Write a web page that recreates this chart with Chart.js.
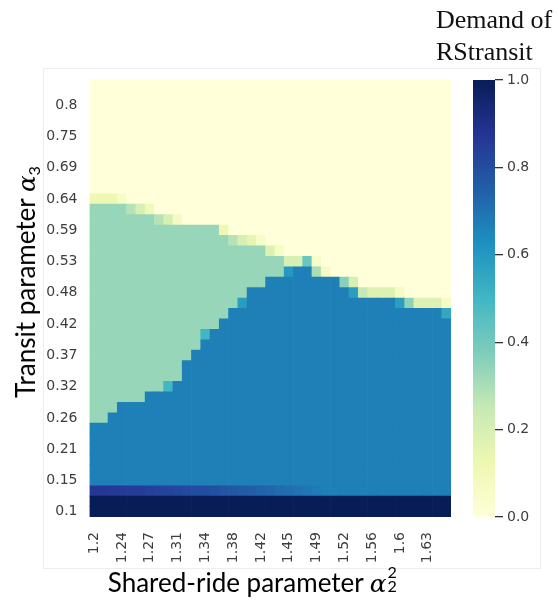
<!DOCTYPE html>
<html>
<head>
<meta charset="utf-8">
<title>Demand of RStransit</title>
<script src="https://cdn.jsdelivr.net/npm/chart.js@4.4.1/dist/chart.umd.min.js"></script>
<style>
  html, body { margin: 0; padding: 0; background: #fff; }
  #wrap { position: relative; width: 558px; height: 604px; overflow: hidden; }
  #wrap canvas { position: absolute; left: 0; top: 0; }
  .frame { position: absolute; left: 43px; top: 68px; width: 498px; height: 501px; border: 1px solid #ededed; box-sizing: border-box; }
  .axis-title { position: absolute; font-family: Lato, sans-serif; font-size: 26px; color: #000; white-space: nowrap; }
  .axis-title i { font-family: 'DejaVu Serif', serif; font-size: 0.95em; }
  .axis-title sub { font-size: 0.62em; vertical-align: -0.3em; line-height: 0; }
  #ytitle { left: 25px; top: 282px; transform: translate(-50%, -50%) rotate(-90deg); }
  #xtitle { left: 253px; top: 582px; transform: translate(-50%, -50%); }
  .ss { position: relative; display: inline-block; width: 0.45em; height: 1em; }
  .ss span { position: absolute; left: 1px; font-size: 0.62em; line-height: 1; }
  .ss .up { top: -0.12em; }
  .ss .dn { top: 0.72em; }
  .cb-title { position: absolute; left: 436px; top: 4px; font-family: 'Liberation Serif', serif; font-size: 26px; line-height: 32px; color: #111; }
</style>
</head>
<body>
<div id="wrap">
  <div class="frame"></div>
  <canvas id="heat" width="558" height="604"></canvas>
  <canvas id="cbar" width="558" height="604"></canvas>
  <div class="cb-title">Demand of<br>RStransit</div>
  <div class="axis-title" id="ytitle">Transit parameter <i>α</i><sub>3</sub></div>
  <div class="axis-title" id="xtitle">Shared-ride parameter <i>α</i><span class="ss"><span class="up">2</span><span class="dn">2</span></span></div>
</div>
<script>
// grid size: columns = shared-ride parameter, rows = transit parameter (row 0 at the bottom)
const nCols = 39;
const nRows = 42;

// labels shown on every third column / row
const xTickLabels = ['1.2', '1.24', '1.27', '1.31', '1.34', '1.38', '1.42', '1.45', '1.49', '1.52', '1.56', '1.6', '1.63'];
const yTickLabels = ['0.1', '0.15', '0.21', '0.26', '0.32', '0.37', '0.42', '0.48', '0.53', '0.59', '0.64', '0.69', '0.75', '0.8'];

// demand levels of the plateaus
const levelNone = 0;
const levelLow = 1 / 3;
const levelHigh = 2 / 3;
const levelFull = 1;

// highest row (per column) in the 2/3 plateau
const blueTop = [8, 8, 9, 10, 10, 10, 11, 11, 11, 12, 14, 15, 16, 17, 18, 19, 19, 21, 21, 22,
  22, 22, 23, 23, 22, 22, 22, 21, 20, 20, 20, 20, 20, 19, 19, 19, 19, 19, 18];
// highest row (per column) in the 1/3 plateau
const greenTop = [29, 29, 29, 29, 28, 28, 28, 27, 27, 27, 27, 27, 27, 27, 26, 25, 25, 25, 25, 24,
  24, 22, 23, 23, 22, 22, 22, 21, 20, 20, 20, 20, 20, 19, 19, 19, 19, 19, 18];
// row 2, just above the two full-demand rows
const bottomBand = [0.87, 0.87, 0.86, 0.86, 0.85, 0.85, 0.84, 0.83, 0.83, 0.82, 0.81, 0.8, 0.8,
  0.79, 0.78, 0.77, 0.76, 0.75, 0.74, 0.73, 0.72, 0.71, 0.7, 0.69, 0.68,
  0.67, 0.67, 0.67, 0.67, 0.67, 0.67, 0.67, 0.67, 0.67, 0.67, 0.67, 0.67, 0.67, 0.67];
// cells on the boundaries: [column, row, demand]
const edgeCells = [
  [0, 30, 0.12], [1, 30, 0.12], [2, 30, 0.12], [3, 30, 0.06],
  [4, 29, 0.28], [5, 29, 0.2], [6, 29, 0.1],
  [7, 28, 0.28], [8, 28, 0.2], [9, 28, 0.08],
  [14, 27, 0.12],
  [15, 26, 0.28], [16, 26, 0.2], [17, 26, 0.15], [18, 26, 0.05],
  [19, 25, 0.18], [20, 25, 0.06],
  [21, 23, 0.6], [21, 24, 0.2], [22, 24, 0.2], [23, 24, 0.42], [24, 24, 0.05],
  [24, 23, 0.3], [25, 23, 0.07],
  [8, 12, 0.5], [12, 17, 0.5], [16, 20, 0.58],
  [27, 22, 0.36], [28, 21, 0.58], [28, 22, 0.2],
  [29, 21, 0.25], [30, 21, 0.18], [31, 21, 0.18], [32, 21, 0.18],
  [33, 20, 0.58], [33, 21, 0.07], [34, 20, 0.35], [35, 20, 0.18], [36, 20, 0.18], [37, 20, 0.18],
  [38, 19, 0.55], [38, 20, 0.06]
];

const colorbarTicks = [0, 0.2, 0.4, 0.6, 0.8, 1.0];

// YlGnBu
const ylgnbu = ['#ffffd9', '#edf8b1', '#c7e9b4', '#7fcdbb', '#41b6c4', '#1d91c0', '#225ea8', '#253494', '#081d58'];

function hexToRgb(h) {
  const n = parseInt(h.slice(1), 16);
  return [(n >> 16) & 255, (n >> 8) & 255, n & 255];
}
const ylgnbuRgb = ylgnbu.map(hexToRgb);

function cmap(v) {
  const t = Math.min(1, Math.max(0, v)) * (ylgnbuRgb.length - 1);
  const i = Math.min(ylgnbuRgb.length - 2, Math.floor(t));
  const f = t - i;
  const a = ylgnbuRgb[i], b = ylgnbuRgb[i + 1];
  const c = a.map((x, k) => Math.round(x + (b[k] - x) * f));
  return `rgb(${c[0]},${c[1]},${c[2]})`;
}

function cellValue(c, r) {
  if (r <= 1) return levelFull;
  if (r === 2) return bottomBand[c];
  if (r <= blueTop[c]) return levelHigh;
  if (r <= greenTop[c]) return levelLow;
  return levelNone;
}

const grid = [];
for (let r = 0; r < nRows; r++) {
  grid.push([]);
  for (let c = 0; c < nCols; c++) grid[r].push(cellValue(c, r));
}
edgeCells.forEach(([c, r, v]) => { grid[r][c] = v; });

const xLabels = [];
for (let c = 0; c < nCols; c++) xLabels.push(c % 3 === 0 ? xTickLabels[c / 3] : '');

// one stacked dataset per row, each cell one unit tall
const datasets = grid.map(row => ({
  data: row.map(() => 1),
  backgroundColor: row.map(cmap),
  borderWidth: 0,
  barPercentage: 1,
  categoryPercentage: 1
}));

const tickFont = { family: 'DejaVu Sans', size: 14 };
const tickColor = '#3d3d3d';

new Chart(document.getElementById('heat'), {
  type: 'bar',
  data: { labels: xLabels, datasets },
  options: {
    responsive: false,
    animation: false,
    layout: { padding: { top: 79, right: 107, bottom: 0, left: 0 } },
    plugins: { legend: { display: false }, tooltip: { enabled: false } },
    scales: {
      x: {
        stacked: true,
        grid: { display: false, drawTicks: false },
        border: { display: false },
        ticks: { autoSkip: false, minRotation: 90, maxRotation: 90, padding: 15, color: tickColor, font: tickFont },
        afterFit: s => { s.height = 87; }
      },
      y: {
        stacked: true,
        min: 0,
        max: nRows,
        grid: { display: false, drawTicks: false },
        border: { display: false },
        afterBuildTicks: s => { s.ticks = yTickLabels.map((_, i) => ({ value: i * 3 + 0.5 })); },
        ticks: { callback: (v, i) => yTickLabels[i], padding: 12, color: tickColor, font: tickFont },
        afterFit: s => { s.width = 89.5; }
      }
    }
  }
});

new Chart(document.getElementById('cbar'), {
  type: 'bar',
  data: {
    labels: [''],
    datasets: [{
      data: [1],
      borderWidth: 0,
      barPercentage: 1,
      categoryPercentage: 1,
      backgroundColor: ctx => {
        const a = ctx.chart.chartArea;
        if (!a) return ylgnbu[4];
        const g = ctx.chart.ctx.createLinearGradient(0, a.bottom, 0, a.top);
        ylgnbu.forEach((col, i) => g.addColorStop(i / (ylgnbu.length - 1), col));
        return g;
      }
    }]
  },
  options: {
    responsive: false,
    animation: false,
    layout: { padding: { top: 80, right: 0, bottom: 87, left: 473 } },
    plugins: { legend: { display: false }, tooltip: { enabled: false } },
    scales: {
      x: { display: false },
      y: {
        position: 'right',
        min: 0,
        max: 1,
        grid: { drawOnChartArea: false, drawTicks: true, tickLength: 8, color: '#333', lineWidth: 1.3 },
        border: { display: false },
        afterBuildTicks: s => { s.ticks = colorbarTicks.map(v => ({ value: v })); },
        ticks: { callback: v => v.toFixed(1), padding: 4, color: tickColor, font: tickFont },
        afterFit: s => { s.width = 63; }
      }
    }
  }
});
</script>
</body>
</html>
